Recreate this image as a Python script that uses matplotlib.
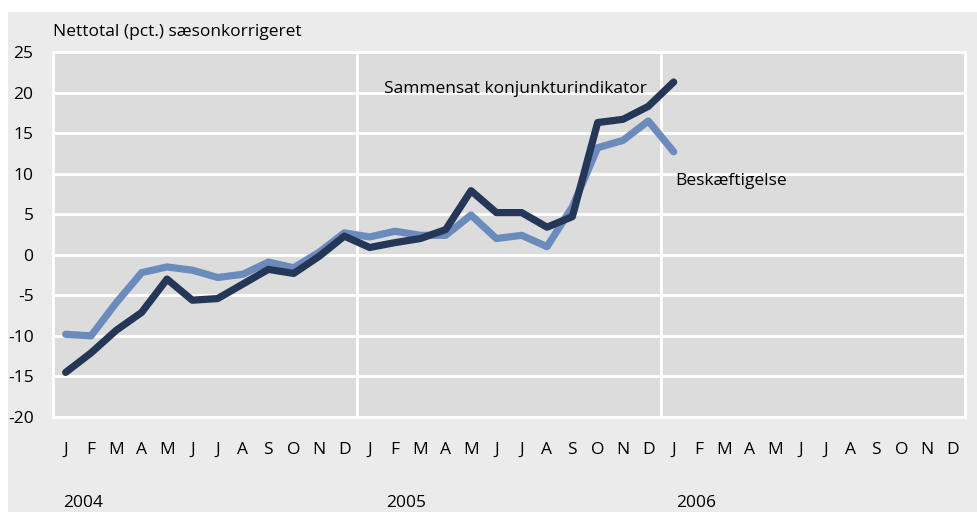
import matplotlib
matplotlib.use("Agg")
import matplotlib.pyplot as plt
from matplotlib.patches import Rectangle
from matplotlib.transforms import blended_transform_factory

plt.rcParams['font.family'] = ['Open Sans', 'DejaVu Sans']
plt.rcParams['axes.unicode_minus'] = False  # plain hyphen like the original

# month labels, three years
months = ["J", "F", "M", "A", "M", "J", "J", "A", "S", "O", "N", "D"] * 3
years = ["2004", "2005", "2006"]

# values, Jan 2004 .. Jan 2006
sammensat = [-14.5, -12.1, -9.3, -7.1, -3.0, -5.6, -5.4, -3.6, -1.8, -2.3, -0.2, 2.3,
             0.9, 1.5, 2.0, 3.1, 7.9, 5.2, 5.2, 3.4, 4.7, 16.3, 16.7, 18.3,
             21.3]
beskaeftigelse = [-9.8, -10.0, -5.9, -2.2, -1.5, -1.9, -2.8, -2.4, -0.9, -1.6, 0.3, 2.7,
                  2.2, 2.9, 2.4, 2.4, 4.9, 2.0, 2.4, 1.0, 5.9, 13.2, 14.1, 16.5,
                  12.7]

dark = "#253757"
light = "#6b8bbd"

fig = plt.figure(figsize=(9.78, 5.12), dpi=100)
fig.patch.set_facecolor("white")
# grey panel behind everything, leaves a white strip on top and left
fig.patches.append(Rectangle((8 / 978, 0), 1, 1 - 12 / 512, transform=fig.transFigure,
                             facecolor="#ebebeb", edgecolor="none", zorder=-10))

ax = fig.add_axes([53 / 978, 1 - 417 / 512, (965 - 53) / 978, (417 - 52) / 512])
ax.set_facecolor("#dcdcdc")

x = list(range(len(sammensat)))
ax.plot(x, beskaeftigelse, color=light, lw=5.2, solid_capstyle="round", zorder=3)
ax.plot(x, sammensat, color=dark, lw=5.2, solid_capstyle="round", zorder=4)

ax.set_xlim(-0.5, 35.5)
ax.set_ylim(-20, 25)
ax.set_yticks(range(-20, 26, 5))
ax.yaxis.grid(True, color="white", lw=2)
for xv in [11.5, 23.5]:
    ax.axvline(xv, color="white", lw=2, zorder=1)
ax.set_axisbelow(True)

for s in ax.spines.values():
    s.set_color("white")
    s.set_linewidth(2)

ax.set_xticks(range(36))
ax.set_xticklabels(months)
ax.tick_params(axis="both", length=0, labelsize=12.5)
ax.tick_params(axis="x", pad=18)
ax.tick_params(axis="y", pad=14)
for lbl in ax.get_yticklabels():
    lbl.set_horizontalalignment("right")

trans = blended_transform_factory(ax.transData, ax.transAxes)
for xp, yr in zip([-0.12, 12.65, 24.1], years):
    ax.text(xp, -0.235, yr, transform=trans, ha="left", va="center", fontsize=12.5)

ax.text(-0.5, 1.055, "Nettotal (pct.) sæsonkorrigeret", transform=trans,
        ha="left", va="center", fontsize=12.5)

ax.text(12.55, 20.4, "Sammensat konjunkturindikator", ha="left", va="center", fontsize=12.5)
ax.text(24.05, 9.1, "Beskæftigelse", ha="left", va="center", fontsize=12.5)

fig.savefig("out.png", dpi=100)
